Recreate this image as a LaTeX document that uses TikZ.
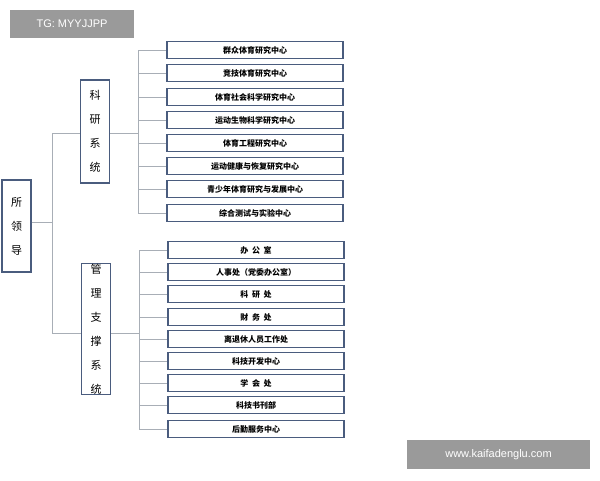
\documentclass[tikz,border=0pt]{standalone}
\usepackage{fontspec}
\setmainfont{Liberation Sans}
\newfontfamily\cjk{Noto Sans CJK SC}
\usetikzlibrary{positioning}
\definecolor{boxBlue}{HTML}{4A5C7E}
\definecolor{lineGray}{HTML}{A8AEB6}
\definecolor{markGray}{HTML}{9A9A9A}
\tikzset{
  leafbox/.style={draw=boxBlue, line width=1.1pt, fill=white, minimum width=176pt, minimum height=17pt, inner sep=0pt, font=\cjk\bfseries\fontsize{8}{9}\selectfont},
  sysbox/.style={draw=boxBlue, line width=1.1pt, fill=white, minimum width=29pt, inner sep=0pt, align=center, font=\cjk\fontsize{11}{24}\selectfont},
  link/.style={draw=lineGray, line width=0.8pt},
  markbox/.style={fill=markGray, text=white, inner sep=0pt, font=\fontsize{11}{12}\selectfont}
}
\begin{document}
\begin{tikzpicture}[x=1pt, y=-1pt]
		\useasboundingbox (0,0) rectangle (600,480);
		\node[markbox, minimum width=124pt, minimum height=28pt] (tag) at (72,24) {TG: MYYJJPP};
		\node[markbox, minimum width=183pt, minimum height=29pt] (site) at (498.5,454.5) {www.kaifadenglu.com};
		\node[sysbox, minimum height=92pt] (root) at (16.5,226) {所\\领\\导};
		\node[sysbox, minimum height=103pt] (ky) at (95,131.5) {科\\研\\系\\统};
		\node[sysbox, minimum height=96pt] (gl) at (96,329) {管\\理\\支\\撑\\系\\统};
		\coordinate (rj) at (52,222);
		\draw[link] (root.east |- rj) -- (rj);
		\draw[link] (52,133) -- (52,333);
		\draw[link] (52,133) -- (ky.west |- 0,133);
		\draw[link] (52,333) -- (gl.west |- 0,333);
		% research centres
		\foreach \y/\alph/\name in {
			50/k1/群众体育研究中心,
			73/k2/竞技体育研究中心,
			97/k3/体育社会科学研究中心,
			120/k4/运动生物科学研究中心,
			143/k5/体育工程研究中心,
			166/k6/运动健康与恢复研究中心,
			189/k7/青少年体育研究与发展中心,
			213/k8/综合测试与实验中心
		}{
			\node[leafbox] (\alph) at (255,\y) {\name};
			\draw[link] (138,\y) -- (\alph.west);
		}
		\draw[link] (138,50) -- (138,213);
		\draw[link] (ky.east |- 0,133) -- (138,133);
		% support offices
		\foreach \y/\alph/\name in {
			250/g1/办\ \ 公\ \ 室,
			272/g2/人事处（党委办公室）,
			294/g3/科\ \ 研\ \ 处,
			317/g4/财\ \ 务\ \ 处,
			339/g5/离退休人员工作处,
			361/g6/科技开发中心,
			383/g7/学\ \ 会\ \ 处,
			405/g8/科技书刊部,
			429/g9/后勤服务中心
		}{
			\node[leafbox] (\alph) at (256,\y) {\name};
			\draw[link] (139,\y) -- (\alph.west);
		}
		\draw[link] (139,250) -- (139,429);
		\draw[link] (gl.east |- 0,333) -- (139,333);
\end{tikzpicture}
\end{document}
